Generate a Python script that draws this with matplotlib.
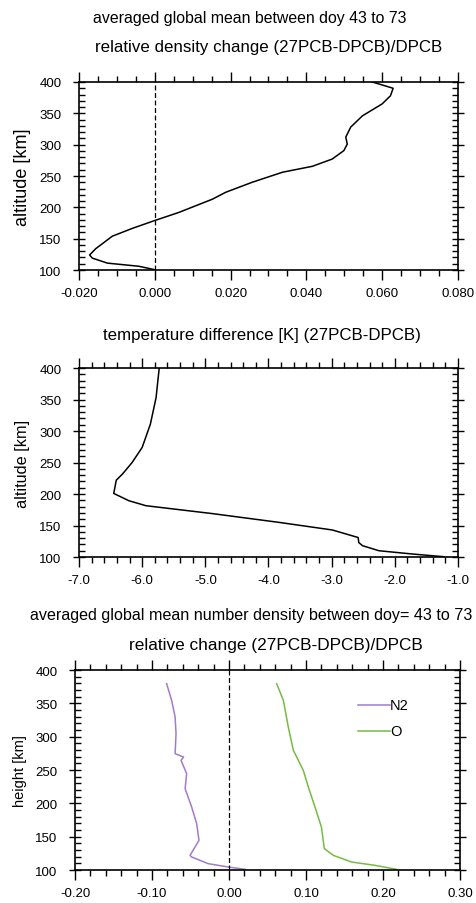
import matplotlib.pyplot as plt
from matplotlib.ticker import MultipleLocator, FormatStrFormatter

plt.rcParams['font.family'] = ['Liberation Sans', 'DejaVu Sans']

# panel 1: relative density change
dens_alt = [100.5, 106, 111, 119, 124, 134, 154, 166.5, 179, 192, 213, 224, 240, 256,
            265.5, 277, 290.5, 301, 312, 328, 346, 365, 378, 390, 400]
dens_rel = [0.0, -0.0042, -0.0125, -0.0165, -0.0172, -0.0156, -0.0112, -0.0059, 0.0,
            0.0064, 0.0152, 0.0187, 0.0257, 0.0337, 0.0416, 0.0468, 0.0499, 0.0508,
            0.0504, 0.0517, 0.0548, 0.060, 0.0622, 0.0629, 0.0574]

# panel 2: temperature difference
temp_alt = [100.5, 104.8, 110, 118, 123, 131, 143, 155, 169, 181.5, 189.4, 201, 222,
            232, 250, 274, 311, 353, 400]
temp_diff = [-1.22, -1.72, -2.25, -2.51, -2.57, -2.58, -2.99, -3.83, -4.89, -5.94,
             -6.21, -6.45, -6.41, -6.31, -6.16, -6.0, -5.87, -5.78, -5.73]

# panel 3: number density relative change
n2_alt = [101, 104.5, 109.5, 119.5, 122, 144.5, 169.5, 194.5, 222, 244.5, 264.5, 269.5,
          274.5, 304.5, 329.5, 354.5, 379.5]
n2_rel = [0.0208, -0.0009, -0.027, -0.0485, -0.0506, -0.039, -0.042, -0.0485, -0.057,
          -0.055, -0.0623, -0.059, -0.070, -0.0688, -0.070, -0.0745, -0.081]
o_alt = [101, 107, 112, 122, 132, 164.5, 194.5, 224.5, 249.5, 269.5, 279.5, 314.5,
         354.5, 379.5]
o_rel = [0.2177, 0.1896, 0.159, 0.1355, 0.1238, 0.120, 0.1117, 0.103, 0.0965, 0.0879,
         0.0836, 0.077, 0.0706, 0.0619]

fig = plt.figure(figsize=(4.76, 9.04), dpi=100)


def style(ax, xmin, xmax, xmaj, xmin_step, fmt):
    ax.set_xlim(xmin, xmax)
    ax.set_ylim(100, 400)
    ax.xaxis.set_major_locator(MultipleLocator(xmaj))
    ax.xaxis.set_minor_locator(MultipleLocator(xmin_step))
    ax.xaxis.set_major_formatter(FormatStrFormatter(fmt))
    ax.yaxis.set_major_locator(MultipleLocator(50))
    ax.yaxis.set_minor_locator(MultipleLocator(10))
    for s in ax.spines.values():
        s.set_linewidth(1.2)
    ax.tick_params(axis='x', which='both', direction='out', top=True, bottom=True,
                   labelsize=9.5, width=1.0, pad=5)
    ax.tick_params(axis='x', which='major', length=7)
    ax.tick_params(axis='x', which='minor', length=4)
    ax.tick_params(axis='y', which='both', left=True, right=True, labelsize=9.5,
                   width=1.0)
    ax.tick_params(axis='y', which='major', direction='inout', length=9, pad=8)
    ax.tick_params(axis='y', which='minor', direction='in', length=4)


ax1 = fig.add_axes([0.166, 0.7002, 0.796, 0.208])
ax1.plot(dens_rel, dens_alt, color='black', lw=1.1)
ax1.axvline(0, color='black', lw=0.9, ls=(0, (4, 2)))
style(ax1, -0.02, 0.08, 0.02, 0.005, '%.3f')
ax1.set_ylabel('altitude [km]', fontsize=13, labelpad=6)
fig.text(0.525, 0.980, 'averaged global mean between doy 43 to 73', ha='center',
         va='center', fontsize=11.4)
fig.text(0.564, 0.947, 'relative density change (27PCB-DPCB)/DPCB', ha='center',
         va='center', fontsize=12.2)

ax2 = fig.add_axes([0.166, 0.3827, 0.796, 0.209])
ax2.plot(temp_diff, temp_alt, color='black', lw=1.1)
style(ax2, -7.0, -1.0, 1.0, 0.2, '%.1f')
ax2.set_ylabel('altitude [km]', fontsize=11.7, labelpad=7)
fig.text(0.551, 0.629, 'temperature difference [K] (27PCB-DPCB)', ha='center',
         va='center', fontsize=12.2)

ax3 = fig.add_axes([0.1576, 0.0365, 0.8088, 0.2212])
ax3.plot(n2_rel, n2_alt, color='#a07ccc', lw=1.1)
ax3.plot(o_rel, o_alt, color='#77bb44', lw=1.1)
ax3.axvline(0, color='black', lw=0.9, ls=(0, (4, 2)))
style(ax3, -0.2, 0.3, 0.1, 0.02, '%.2f')
ax3.set_ylabel('height [km]', fontsize=10.5, labelpad=6)
ax3.plot([0.168, 0.209], [347, 347], color='#a07ccc', lw=1.1)
ax3.plot([0.168, 0.209], [308, 308], color='#77bb44', lw=1.1)
ax3.text(0.209, 347, 'N2', va='center', fontsize=10.5)
ax3.text(0.209, 308, 'O', va='center', fontsize=10.5)
fig.text(0.527, 0.319, 'averaged global mean number density between doy= 43 to 73',
         ha='center', va='center', fontsize=11.6)
fig.text(0.579, 0.2865, 'relative change (27PCB-DPCB)/DPCB', ha='center', va='center',
         fontsize=12.4)

fig.savefig('out.png', dpi=100)
